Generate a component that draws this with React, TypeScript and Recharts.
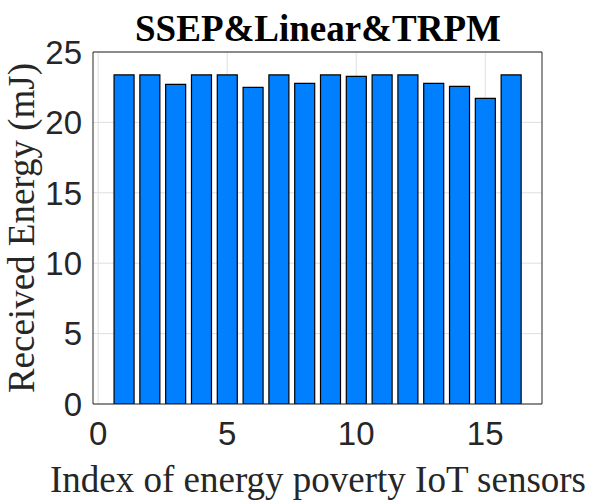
import React from 'react';
import { ComposedChart, Bar, XAxis, YAxis, CartesianGrid } from 'recharts';

const sensorIndex = [1, 2, 3, 4, 5, 6, 7, 8, 9, 10, 11, 12, 13, 14, 15, 16];
const receivedEnergy = [23.37, 23.37, 22.7, 23.37, 23.37, 22.49, 23.37, 22.77, 23.37, 23.27, 23.37, 23.37, 22.77, 22.56, 21.71, 23.37];
const xTicks = [0, 5, 10, 15];
const yTicks = [0, 5, 10, 15, 20, 25];
const xDomain: [number, number] = [-0.2, 17.2];
const yDomain: [number, number] = [0, 25];
const titleText = 'SSEP&Linear&TRPM';
const xLabelText = 'Index of energy poverty IoT sensors';
const yLabelText = 'Received Energy (mJ)';

const data = sensorIndex.map((idx, i) => ({ idx, energy: receivedEnergy[i] }));

const axisColor = '#262626';
const tickFont = { fontSize: 33, fill: axisColor, fontFamily: '"Liberation Sans", Arial, sans-serif' };
const serif = '"Liberation Serif", "Times New Roman", serif';

export default function App() {
  return (
    <div style={{ position: 'absolute', left: 0, top: 0, width: 600, height: 500, background: '#fff' }}>
      <ComposedChart
        width={600}
        height={500}
        data={data}
        margin={{ top: 52, right: 58, bottom: 0, left: 0 }}
      >
        <CartesianGrid stroke="#dfdfdf" strokeWidth={1} verticalValues={xTicks} horizontalValues={yTicks} />
        <XAxis
          dataKey="idx"
          type="number"
          domain={xDomain}
          ticks={xTicks}
          allowDataOverflow
          height={96}
          tickLine={false}
          tickSize={0}
          tickMargin={18}
          axisLine={{ stroke: axisColor, strokeWidth: 1 }}
          tick={tickFont}
          interval={0}
        />
        <YAxis
          type="number"
          domain={yDomain}
          ticks={yTicks}
          allowDataOverflow
          width={93}
          tickLine={false}
          tickSize={0}
          tickMargin={11}
          axisLine={{ stroke: axisColor, strokeWidth: 1 }}
          tick={tickFont}
          interval={0}
        />
        <Bar dataKey="energy" fill="#0080ff" stroke="#000" strokeWidth={1.2} barSize={20} isAnimationActive={false} />
        <XAxis xAxisId="bt" orientation="bottom" mirror type="number" domain={xDomain} ticks={xTicks} allowDataOverflow height={1} tick={false} axisLine={false} tickSize={5} tickLine={{ stroke: axisColor }} interval={0} />
        <XAxis xAxisId="tp" orientation="top" mirror type="number" domain={xDomain} ticks={xTicks} allowDataOverflow height={1} tick={false} axisLine={{ stroke: axisColor }} tickSize={5} tickLine={{ stroke: axisColor }} interval={0} />
        <YAxis yAxisId="lt" orientation="left" mirror type="number" domain={yDomain} ticks={yTicks} allowDataOverflow width={1} tick={false} axisLine={false} tickSize={5} tickLine={{ stroke: axisColor }} interval={0} />
        <YAxis yAxisId="rt" orientation="right" mirror type="number" domain={yDomain} ticks={yTicks} allowDataOverflow width={1} tick={false} axisLine={{ stroke: axisColor }} tickSize={5} tickLine={{ stroke: axisColor }} interval={0} />
      </ComposedChart>
      <svg width={600} height={500} style={{ position: 'absolute', left: 0, top: 0, pointerEvents: 'none' }}>
        <text x={318} y={41} textAnchor="middle" fontFamily={serif} fontWeight="bold" fontSize={37} fill="#000">
          {titleText}
        </text>
        <text x={318} y={492} textAnchor="middle" fontFamily={serif} fontSize={37} fill={axisColor}>
          {xLabelText}
        </text>
        <text transform="translate(34,228) rotate(-90)" textAnchor="middle" fontFamily={serif} fontSize={37} fill={axisColor}>
          {yLabelText}
        </text>
      </svg>
    </div>
  );
}
